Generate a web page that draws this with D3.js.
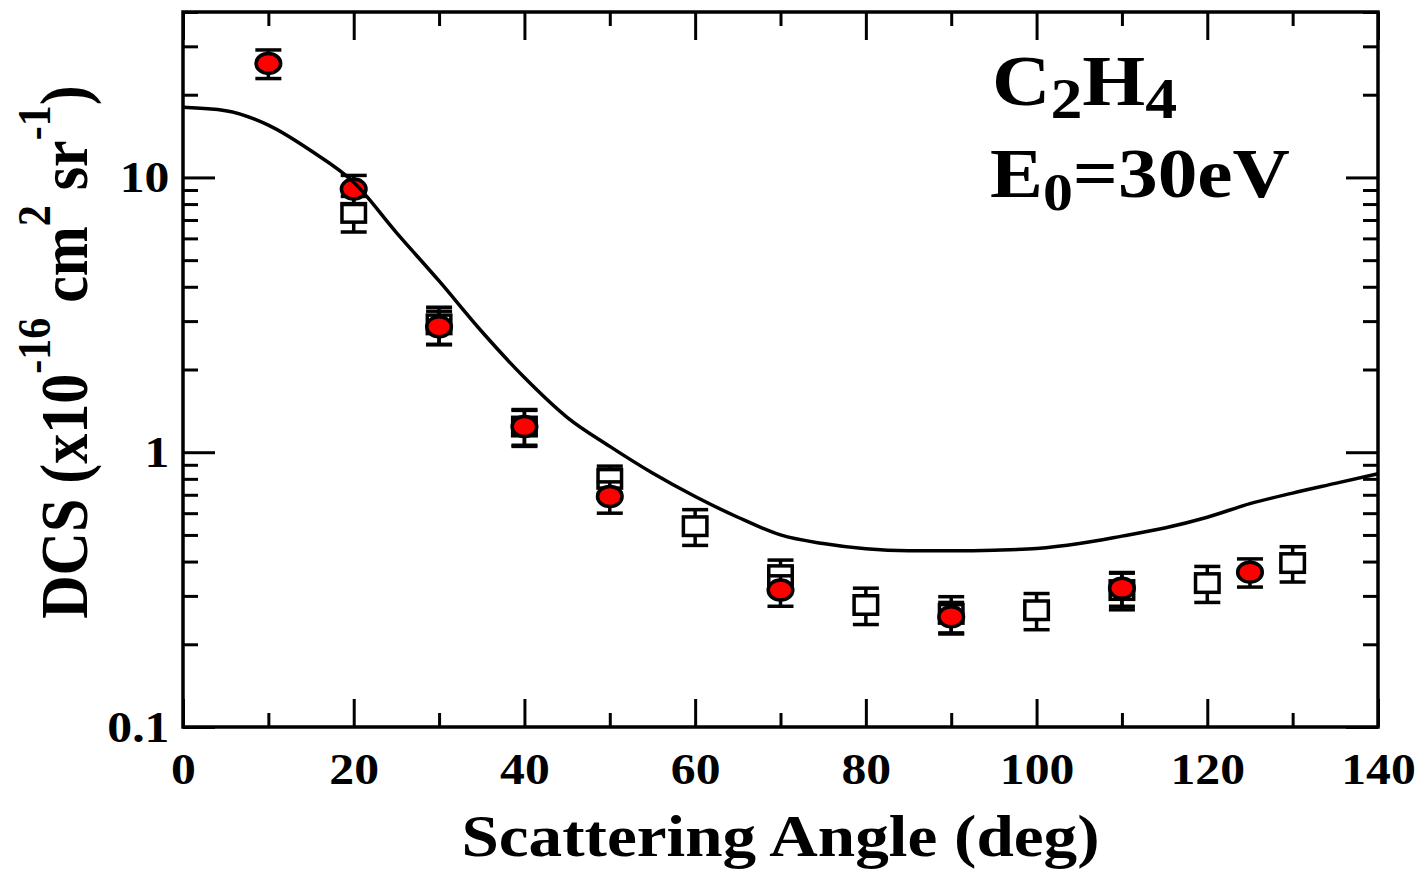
<!DOCTYPE html>
<html>
<head>
<meta charset="utf-8">
<script src="https://cdn.jsdelivr.net/npm/d3@7"></script>
<style>
  html, body { margin: 0; padding: 0; background: #fff; }
  svg text { font-family: "Liberation Serif", "DejaVu Serif", serif; font-weight: bold; fill: #000; }
</style>
</head>
<body>
<div class="plot"></div>
<script>
// data
const angleCircles = [10, 20, 30, 40, 50, 70, 90, 110, 125];
const dcsCircles   = [26, 9.07, 2.86, 1.24, 0.69, 0.315, 0.252, 0.32, 0.366];
const errCircles   = [3.1, 1.1, 0.4, 0.18, 0.09, 0.04, 0.032, 0.045, 0.043];

const angleSquares = [20, 30, 40, 50, 60, 70, 80, 90, 100, 110, 120, 130];
const dcsSquares   = [7.43, 2.92, 1.24, 0.80, 0.538, 0.357, 0.278, 0.258, 0.266, 0.315, 0.334, 0.395];
const errSquares   = [1.1, 0.45, 0.19, 0.09, 0.08, 0.048, 0.042, 0.04, 0.04, 0.048, 0.05, 0.058];

const angleTheory = [0, 5, 10, 15, 20, 25, 30, 35, 40, 45, 50, 55, 60, 65, 70, 75, 80, 85, 90, 95, 100, 105, 110, 115, 120, 125, 130, 135, 140];
const dcsTheory   = [18.0, 17.5, 15.5, 12.5, 9.6, 6.3, 4.2, 2.75, 1.87, 1.34, 1.05, 0.84, 0.69, 0.58, 0.50, 0.465, 0.445, 0.438, 0.438, 0.44, 0.446, 0.465, 0.495, 0.53, 0.58, 0.65, 0.71, 0.77, 0.835];

const xMajor = [0, 20, 40, 60, 80, 100, 120, 140];
const xMinor = [10, 30, 50, 70, 90, 110, 130];
const yMajor = [0.1, 1, 10];
const yLabels = ['0.1', '1', '10'];

const W = 1421, H = 872;
const margin = {top: 12, right: 43, bottom: 145, left: 183};
const w = W - margin.left - margin.right,
	h = H - margin.top - margin.bottom;
const SX = 1.13; // the original's lettering is a bit wider than it is tall

const svg = d3.select('.plot').append('svg')
	.attr('width', W)
	.attr('height', H);
const g = svg.append('g').attr('transform', `translate(${margin.left},${margin.top})`);

const x = d3.scaleLinear().domain([0, 140]).range([0, w]);
const y = d3.scaleLog().domain([0.1, 40]).range([h, 0]);
const yMinor = y.ticks().filter(function(d){ return yMajor.indexOf(+d.toPrecision(3)) < 0; });

function styleAxis(sel){
	sel.select('.domain').remove();
	sel.selectAll('line').attr('stroke', '#000').attr('stroke-width', 3);
	sel.selectAll('text').style('font-size', '44px').attr('fill', '#000')
		.attr('transform', `scale(${SX},1)`);
}

// ticks, all pointing inward
g.append('g').attr('transform', `translate(0,${h})`)
	.call(d3.axisBottom(x).tickValues(xMajor).tickSize(-28).tickPadding(26).tickFormat(d3.format('d')))
	.call(styleAxis);
g.append('g').attr('transform', `translate(0,${h})`)
	.call(d3.axisBottom(x).tickValues(xMinor).tickSize(-14).tickFormat(''))
	.call(styleAxis);
g.append('g')
	.call(d3.axisTop(x).tickValues(xMajor).tickSize(-28).tickFormat(''))
	.call(styleAxis);
g.append('g')
	.call(d3.axisTop(x).tickValues(xMinor).tickSize(-14).tickFormat(''))
	.call(styleAxis);
g.append('g')
	.call(d3.axisLeft(y).tickValues(yMajor).tickSize(-32).tickPadding(12).tickFormat(function(d, i){ return yLabels[i]; }))
	.call(styleAxis);
g.append('g')
	.call(d3.axisLeft(y).tickValues(yMinor).tickSize(-15).tickFormat(''))
	.call(styleAxis);
g.append('g').attr('transform', `translate(${w},0)`)
	.call(d3.axisRight(y).tickValues(yMajor).tickSize(-32).tickFormat(''))
	.call(styleAxis);
g.append('g').attr('transform', `translate(${w},0)`)
	.call(d3.axisRight(y).tickValues(yMinor).tickSize(-15).tickFormat(''))
	.call(styleAxis);

// frame
g.append('rect')
	.attr('width', w).attr('height', h)
	.attr('fill', 'none').attr('stroke', '#000').attr('stroke-width', 3.5);

// error bars + markers
function errorBars(angles, vals, errs){
	const eb = g.append('g').attr('stroke', '#000').attr('stroke-width', 3.5);
	angles.forEach(function(a, i){
		const cx = x(a), y0 = y(vals[i] - errs[i]), y1 = y(vals[i] + errs[i]);
		eb.append('line').attr('x1', cx).attr('x2', cx).attr('y1', y0).attr('y2', y1);
		eb.append('line').attr('x1', cx - 13).attr('x2', cx + 13).attr('y1', y0).attr('y2', y0);
		eb.append('line').attr('x1', cx - 13).attr('x2', cx + 13).attr('y1', y1).attr('y2', y1);
	});
}

errorBars(angleSquares, dcsSquares, errSquares);
g.append('g').selectAll('rect')
	.data(angleSquares)
	.join('rect')
	.attr('x', function(d){ return x(d) - 11.75; })
	.attr('y', function(d, i){ return y(dcsSquares[i]) - 9.25; })
	.attr('width', 23.5).attr('height', 18.5)
	.attr('fill', '#fff').attr('stroke', '#000').attr('stroke-width', 3.5);

errorBars(angleCircles, dcsCircles, errCircles);
g.append('g').selectAll('ellipse')
	.data(angleCircles)
	.join('ellipse')
	.attr('cx', function(d){ return x(d); })
	.attr('cy', function(d, i){ return y(dcsCircles[i]); })
	.attr('rx', 12.3).attr('ry', 10)
	.attr('fill', '#ff0000').attr('stroke', '#000').attr('stroke-width', 3.5);

// theory curve
const line = d3.line()
	.x(function(d){ return x(d); })
	.y(function(d, i){ return y(dcsTheory[i]); })
	.curve(d3.curveMonotoneX);
g.append('path').datum(angleTheory)
	.attr('d', line)
	.attr('fill', 'none').attr('stroke', '#000').attr('stroke-width', 3.5);

// axis titles
svg.append('text')
	.attr('transform', `translate(${margin.left + w / 2},856) scale(1.12,1)`)
	.attr('text-anchor', 'middle')
	.style('font-size', '60px')
	.text('Scattering Angle (deg)');

const yt = svg.append('text')
	.attr('transform', `translate(87,352) scale(${SX},1) rotate(-90)`)
	.attr('text-anchor', 'middle')
	.style('font-size', '60px');
yt.append('tspan').text('DCS (x10');
yt.append('tspan').attr('dy', -33).style('font-size', '42px').text('-16');
yt.append('tspan').attr('dy', 33).text(' cm');
yt.append('tspan').attr('dy', -33).style('font-size', '42px').text('2');
yt.append('tspan').attr('dy', 33).text(' sr');
yt.append('tspan').attr('dy', -33).style('font-size', '42px').text('-1');
yt.append('tspan').attr('dy', 33).text(')');

// annotation
const t1 = svg.append('text').attr('transform', 'translate(992,105) scale(1.14,1)').style('font-size', '71px');
t1.append('tspan').text('C');
t1.append('tspan').attr('dy', 13).style('font-size', '56px').text('2');
t1.append('tspan').attr('dy', -13).text('H');
t1.append('tspan').attr('dy', 13).style('font-size', '56px').text('4');

const t2 = svg.append('text').attr('transform', 'translate(990,197) scale(1.15,1)').style('font-size', '69px');
t2.append('tspan').text('E');
t2.append('tspan').attr('dy', 13).style('font-size', '52px').text('0');
t2.append('tspan').attr('dy', -13).text('=30eV');
</script>
</body>
</html>
